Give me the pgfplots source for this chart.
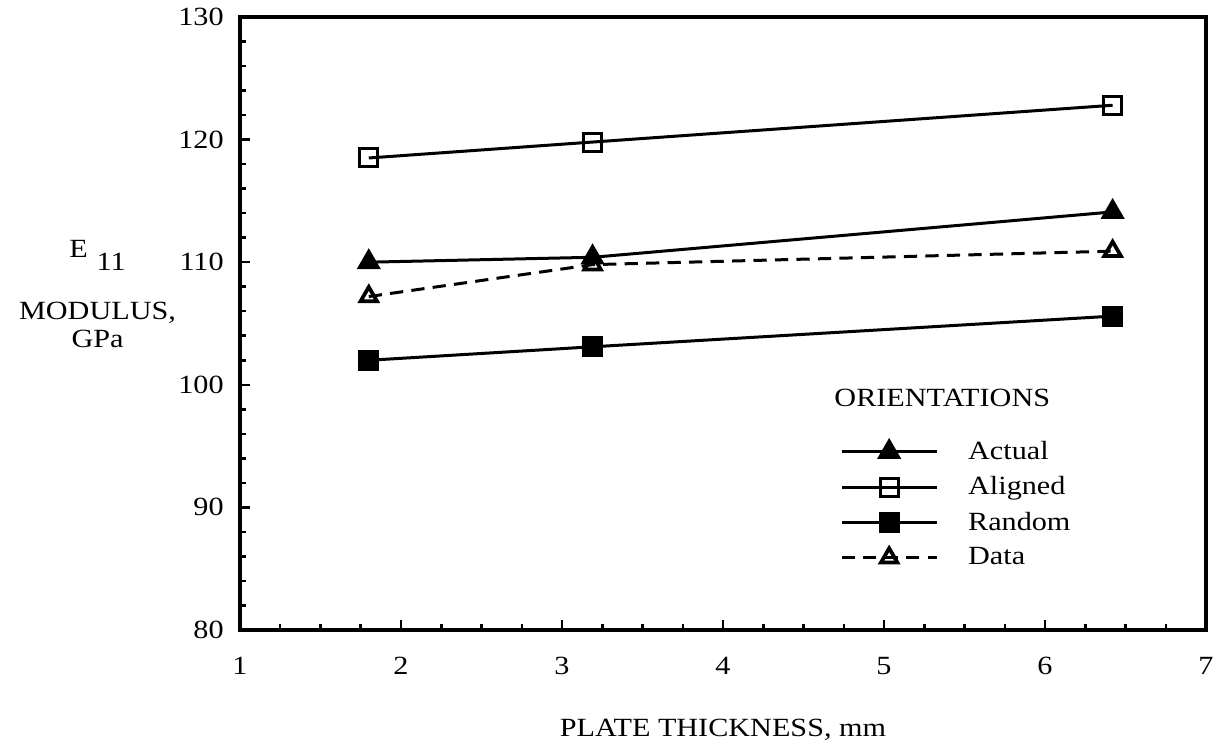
\documentclass[border=0pt]{standalone}
\usepackage{pgfplots}
\pgfplotsset{compat=1.18}
\usepackage{fontspec}
\setmainfont{Liberation Serif}[FakeStretch=1.15]

\begin{document}
\begin{tikzpicture}[font=\fontsize{10.5}{12.5}\selectfont]
\begin{axis}[
  width=386.4pt, height=245.2pt, scale only axis,
  xmin=1, xmax=7, ymin=80, ymax=130,
  xtick={1,2,...,7}, ytick={80,90,...,130},
  minor x tick num=3, minor y tick num=4,
  xtick pos=bottom, ytick pos=left,
  tick align=inside,
  major tick length=4pt, minor tick length=2.4pt,
  every tick/.style={black, line width=1pt},
  axis line style={line width=1.3pt},
  /pgf/number format/assume math mode=true,
  tick label style={font=\fontsize{10.5}{12.5}\selectfont},
  xticklabel style={anchor=base, yshift=-18pt},
  yticklabel style={xshift=-3pt},
  xlabel={PLATE THICKNESS, mm},
  xlabel style={at={(rel axis cs:0.5,0)}, anchor=base, yshift=-42.8pt},
  ylabel={E\hspace{3.5pt}\raisebox{-5pt}{11}\\[12.3pt] MODULUS,\\[-1.5pt] GPa},
  ylabel style={rotate=-90, align=center, at={(rel axis cs:0,0.548)}, anchor=center, xshift=-57pt},
  legend cell align=left,
  legend style={draw=none, fill=none, at={(rel axis cs:0.613,0.3255)}, anchor=north west,
    row sep=1.4pt, column sep=10pt, font=\fontsize{10.5}{12.5}\selectfont},
  legend image code/.code={\draw[mark repeat=2, mark phase=2, #1] plot coordinates {(0pt,0pt) (19pt,0pt) (38pt,0pt)};},
]
% E11 modulus against plate thickness for each fibre orientation
\addplot[black, line width=1.2pt, mark=triangle*, mark size=4.4pt, mark options={solid}]
  coordinates {(1.8,110.0) (3.19,110.4) (6.42,114.1)};
\addlegendentry{Actual}
\addplot[black, line width=1.2pt, mark=square, mark size=3.6pt, mark options={solid, fill=white, line width=1.2pt}]
  coordinates {(1.8,118.5) (3.19,119.8) (6.42,122.8)};
\addlegendentry{Aligned}
\addplot[black, line width=1.2pt, mark=square*, mark size=3.6pt, mark options={solid}]
  coordinates {(1.8,102.0) (3.19,103.1) (6.42,105.6)};
\addlegendentry{Random}
\addplot[black, line width=1.2pt, dash pattern=on 5.3pt off 3.3pt, mark=triangle, mark size=3.8pt, mark options={solid, fill=white, line width=1.5pt}]
  coordinates {(1.8,107.2) (3.19,109.8) (6.42,110.9)};
\addlegendentry{Data}
\node[anchor=center] at (rel axis cs:0.727,0.378) {ORIENTATIONS};
\coordinate (bl) at (rel axis cs:0,0);
\coordinate (tr) at (rel axis cs:1,1);
\end{axis}
\pgfresetboundingbox
\path ([shift={(-96pt,-46pt)}]bl) rectangle ([shift={(9.6pt,6.8pt)}]tr);
\end{tikzpicture}
\end{document}
